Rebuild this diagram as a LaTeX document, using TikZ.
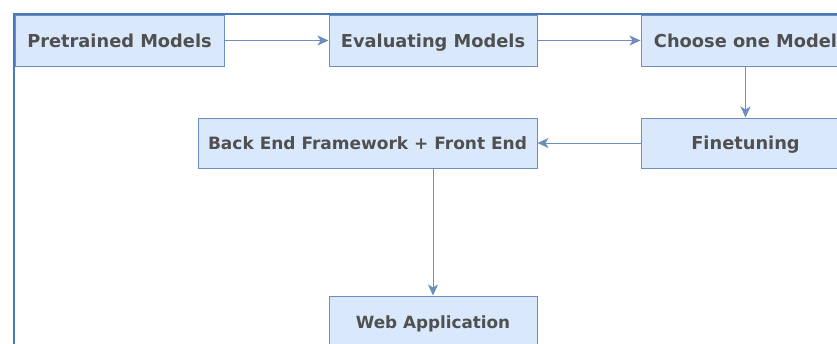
\documentclass[tikz,border=0pt]{standalone}
\usepackage{fontspec}
\setmainfont{DejaVu Sans}
\usetikzlibrary{arrows.meta}
\definecolor{boxfill}{HTML}{DAE8FC}
\definecolor{boxline}{HTML}{6C8EBF}
\definecolor{frameline}{HTML}{4A78B8}
\definecolor{labeltext}{HTML}{505050}
\tikzset{
  stagebox/.style={draw=boxline, fill=boxfill, line width=1pt, minimum height=51pt,
    inner sep=0pt, text height=13pt, text depth=0pt, text=labeltext,
    font=\fontsize{17.8}{20}\selectfont\bfseries},
  smaller/.style={font=\fontsize{#1}{20}\selectfont\bfseries},
  flow/.style={draw=boxline, line width=1pt, -{Stealth[length=11pt,width=10pt,inset=3pt]}}
}
\begin{document}
\begin{tikzpicture}[x=1pt,y=-1pt]
  \useasboundingbox (0,0) rectangle (837,343);
  \clip (0,0) rectangle (837,343);
  \fill[white] (0,0) rectangle (837,343);

  \node[stagebox, minimum width=209pt] (pre) at (119.5,40.5) {Pretrained Models};
  \node[stagebox, minimum width=208pt] (eval) at (433,40.5) {Evaluating Models};
  \node[stagebox, minimum width=209pt] (choose) at (745.5,40.5) {Choose one Model};
  \node[stagebox, minimum width=209pt, minimum height=50pt] (fine) at (745.5,143) {Finetuning};
  \node[stagebox, smaller=17, minimum width=339pt, minimum height=50pt] (back) at (367.5,143) {Back End Framework + Front End};
  \node[stagebox, smaller=16.8, minimum width=208pt] (web) at (433,321.5) {Web Application};

  % outer frame
  \draw[frameline, line width=1.8pt] (14,14) rectangle (900,420);

  \draw[flow] (pre) -- (eval);
  \draw[flow] (eval) -- (choose);
  \draw[flow] (choose) -- (fine);
  \draw[flow] (fine) -- (back);
  \draw[flow] (back.south -| web.north) -- (web.north);
\end{tikzpicture}
\end{document}
